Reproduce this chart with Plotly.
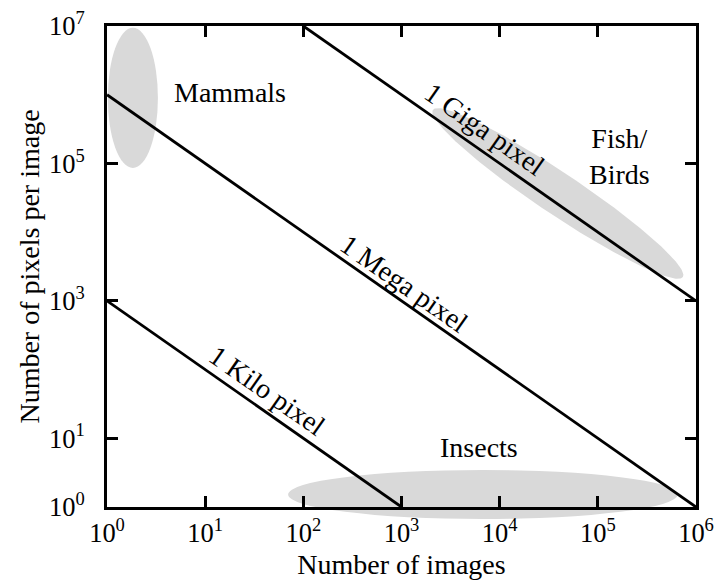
import numpy as np
import plotly.graph_objects as go

# Constant-total-pixel lines: total pixels = images * pixels per image
line_names = ["1 Kilo pixel", "1 Mega pixel", "1 Giga pixel"]
line_totals = [1e3, 1e6, 1e9]
line_x_start = [1, 1, 1e2]
line_x_end = [1e3, 1e6, 1e6]

# Axis ticks
x_tick_vals = [1, 1e1, 1e2, 1e3, 1e4, 1e5, 1e6]
x_tick_text = ["10<sup>%d</sup>" % k for k in range(7)]
y_tick_vals = [1, 1e1, 1e3, 1e5, 1e7]
y_tick_text = ["10<sup>0</sup>", "10<sup>1</sup>", "10<sup>3</sup>",
               "10<sup>5</sup>", "10<sup>7</sup>"]

# Typical dataset regions for each animal group
mammals_images = [1.02, 3.3]
mammals_pixels = [8.6e4, 9.4e6]
insects_images = [70, 6.5e5]
insects_pixels_paper = [-0.025, 0.077]   # extends just below the axis
fish_center_log = [4.593, 4.563]         # log10(images), log10(pixels)
fish_major_log = [1.273, -1.216]
fish_minor_log = [0.118, 0.252]

FONT = "Liberation Serif"
GREY = "#d9d9d9"

fig = go.Figure()

# Fish/Birds region: rotated ellipse in log-log space
t = np.linspace(0, 2 * np.pi, 200)
fu = fish_center_log[0] + fish_major_log[0] * np.cos(t) + fish_minor_log[0] * np.sin(t)
fv = fish_center_log[1] + fish_major_log[1] * np.cos(t) + fish_minor_log[1] * np.sin(t)
fig.add_trace(go.Scatter(
    x=10 ** fu, y=10 ** fv, mode="lines", fill="toself",
    fillcolor=GREY, line=dict(width=0, color=GREY),
    hoverinfo="skip", showlegend=False,
))

for name, total, xs, xe in zip(line_names, line_totals, line_x_start, line_x_end):
    fig.add_trace(go.Scatter(
        x=[xs, xe], y=[total / xs, total / xe], mode="lines",
        line=dict(color="black", width=2.8), name=name,
        hoverinfo="skip", showlegend=False,
    ))

fig.add_shape(type="circle", xref="x", yref="y", layer="below",
              x0=mammals_images[0], x1=mammals_images[1],
              y0=mammals_pixels[0], y1=mammals_pixels[1],
              fillcolor=GREY, line=dict(width=0))
fig.add_shape(type="circle", xref="x", yref="paper", layer="below",
              x0=insects_images[0], x1=insects_images[1],
              y0=insects_pixels_paper[0], y1=insects_pixels_paper[1],
              fillcolor=GREY, line=dict(width=0))

label_font = dict(family=FONT, size=28, color="black")

# Group labels (positions in log10 units)
for text, u, v in [("Mammals", 1.253, 6.03),
                   ("Fish/<br>Birds", 5.224, 5.095),
                   ("Insects", 3.788, 0.86)]:
    fig.add_annotation(x=u, y=v, xref="x", yref="y", text=text,
                       showarrow=False, font=label_font)

# Line labels, rotated along the lines
for name, u, v in [("1 Kilo pixel", 1.629, 1.689),
                   ("1 Mega pixel", 3.024, 3.246),
                   ("1 Giga pixel", 3.849, 5.488)]:
    fig.add_annotation(x=u, y=v, xref="x", yref="y", text=name,
                       showarrow=False, textangle=35, font=label_font)

axis_common = dict(
    type="log", showgrid=False, zeroline=False,
    showline=True, linecolor="black", linewidth=2.8, mirror="ticks",
    ticks="inside", ticklen=11, tickwidth=2.6, tickcolor="black",
    ticklabeloverflow="allow",
    tickfont=dict(family=FONT, size=26.5, color="black"),
)

fig.update_xaxes(range=[0, 6], tickvals=x_tick_vals, ticktext=x_tick_text,
                 title=dict(text="Number of images",
                            font=dict(family=FONT, size=28, color="black"),
                            standoff=8),
                 **axis_common)
fig.update_yaxes(range=[0, 7], tickvals=y_tick_vals, ticktext=y_tick_text,
                 ticklabelstandoff=14,
                 title=dict(text="Number of pixels per image",
                            font=dict(family=FONT, size=28, color="black"),
                            standoff=2),
                 **axis_common)

fig.update_layout(
    width=714, height=584,
    margin=dict(l=107, r=18, t=26, b=77, autoexpand=False),
    plot_bgcolor="white", paper_bgcolor="white",
    showlegend=False,
)

fig.write_html("out.html")
